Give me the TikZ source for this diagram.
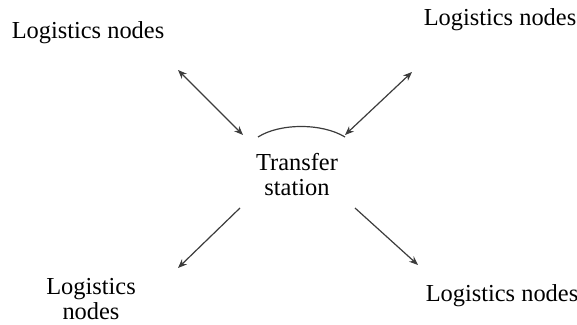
\documentclass[tikz,border=0pt]{standalone}
\usepackage{fontspec}
\setmainfont{Liberation Serif}
\usepackage{tikz}
\usetikzlibrary{arrows.meta,positioning}
\definecolor{arrowgrey}{RGB}{60,60,60}

\begin{document}
\begin{tikzpicture}[
    x=0.5pt, y=-0.5pt, >={Stealth[length=4.5pt,width=3.6pt]},
    lbl/.style={align=center, font=\fontsize{12.2}{12.5}\selectfont, inner sep=0pt},
    arr/.style={line width=0.6pt, arrowgrey}
]
\useasboundingbox (0,0) rectangle (577,325);
\node[lbl] (tl) at (88,33)   {Logistics nodes};
\node[lbl] (tr) at (500,20)  {Logistics nodes};
\node[lbl] (bl) at (91,299)  {Logistics\\nodes};
\node[lbl] (br) at (502,296) {Logistics nodes};
\node[lbl] (ts) at (297,175) {Transfer\\station};

\coordinate (tla) at (178,70);  \coordinate (tlb) at (243,135);
\coordinate (tra) at (412,72);  \coordinate (trb) at (345,135);
\coordinate (bla) at (240,208); \coordinate (blb) at (178,268);
\coordinate (bra) at (355,208); \coordinate (brb) at (418,265);

\draw[arr, <->] (tla) -- (tlb);
\draw[arr, <->] (tra) -- (trb);
\draw[arr, ->]  (bla) -- (blb);
\draw[arr, ->]  (bra) -- (brb);
% top of the station
\draw[line width=0.6pt, arrowgrey] (258,137) .. controls (280,123) and (322,123) .. (345,137);
\end{tikzpicture}
\end{document}
